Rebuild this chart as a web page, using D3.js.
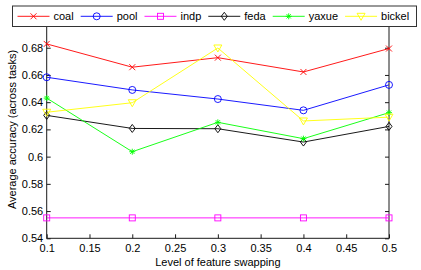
<!DOCTYPE html>
<html>
<head>
<meta charset="utf-8">
<script src="https://cdn.jsdelivr.net/npm/d3@7/dist/d3.min.js"></script>
<style>
  html, body { margin: 0; padding: 0; background: #fff; }
  svg { display: block; font-family: "Liberation Sans", Arial, sans-serif; }
</style>
</head>
<body>
<svg id="chart"></svg>
<script>
var W = 421, H = 270;

// data
var levels = [0.1, 0.2, 0.3, 0.4, 0.5];
var coal   = [0.6828, 0.6657, 0.6727, 0.6622, 0.6794];
var pool   = [0.6583, 0.6490, 0.6423, 0.6340, 0.6527];
var indp   = [0.5550, 0.5550, 0.5550, 0.5550, 0.5550];
var feda   = [0.6303, 0.6207, 0.6205, 0.6107, 0.6222];
var yaxue  = [0.6430, 0.6036, 0.6252, 0.6132, 0.6323];
var bickel = [0.6326, 0.6396, 0.6798, 0.6262, 0.6290];

var xTicks = [0.1, 0.15, 0.2, 0.25, 0.3, 0.35, 0.4, 0.45, 0.5];
var yTicks = [0.54, 0.56, 0.58, 0.6, 0.62, 0.64, 0.66, 0.68, 0.7];

var series = [
    { name: "coal",   values: coal,   color: "#ff0000", marker: "x" },
    { name: "pool",   values: pool,   color: "#0000ff", marker: "o" },
    { name: "indp",   values: indp,   color: "#ff00ff", marker: "s" },
    { name: "feda",   values: feda,   color: "#000000", marker: "d" },
    { name: "yaxue",  values: yaxue,  color: "#00ff00", marker: "*" },
    { name: "bickel", values: bickel, color: "#ffff00", marker: "v" }
];

var svg = d3.select("#chart")
    .attr("width", W)
    .attr("height", H);

var x = d3.scaleLinear().domain([0.1, 0.5]).range([46.7, 389]);
var y = d3.scaleLinear().domain([0.54, 0.7]).range([238.3, 20.5]);

var fmt = function(d) { return String(+d.toFixed(2)); };
var axisColor = "#1a1a1a";

// axes box
svg.append("rect")
    .attr("x", x.range()[0])
    .attr("y", y.range()[1])
    .attr("width", x.range()[1] - x.range()[0])
    .attr("height", y.range()[0] - y.range()[1])
    .attr("fill", "#fff")
    .attr("stroke", axisColor)
    .attr("stroke-width", 1);

function styleAxis(g)
{
    g.select(".domain").remove();
    g.selectAll(".tick line").attr("stroke", axisColor);
    g.selectAll(".tick text")
        .attr("fill", "#000")
        .style("font-size", "11px")
        .style("font-family", "'Liberation Sans', Arial, sans-serif");
}

svg.append("g")
    .attr("transform", "translate(0," + y.range()[0] + ")")
    .call(d3.axisBottom(x).tickValues(xTicks).tickFormat(fmt)
          .tickSizeInner(-4).tickSizeOuter(0).tickPadding(6))
    .call(styleAxis);

svg.append("g")
    .attr("transform", "translate(0," + y.range()[1] + ")")
    .call(d3.axisTop(x).tickValues(xTicks).tickFormat("")
          .tickSizeInner(-4).tickSizeOuter(0))
    .call(styleAxis);

svg.append("g")
    .attr("transform", "translate(" + x.range()[0] + ",0)")
    .call(d3.axisLeft(y).tickValues(yTicks).tickFormat(fmt)
          .tickSizeInner(-4).tickSizeOuter(0).tickPadding(3.5))
    .call(styleAxis);

svg.append("g")
    .attr("transform", "translate(" + x.range()[1] + ",0)")
    .call(d3.axisRight(y).tickValues(yTicks).tickFormat("")
          .tickSizeInner(-4).tickSizeOuter(0))
    .call(styleAxis);

// axis titles
svg.append("text")
    .attr("x", (x.range()[0] + x.range()[1]) / 2)
    .attr("y", 266)
    .attr("text-anchor", "middle")
    .style("font-size", "11px")
    .text("Level of feature swapping");

svg.append("text")
    .attr("transform", "translate(16," + (y.range()[0] + y.range()[1]) / 2 + ") rotate(-90)")
    .attr("text-anchor", "middle")
    .style("font-size", "11px")
    .text("Average accuracy (across tasks)");

// marker drawing
function drawMarker(g, type, color)
{
    var s = 3.5;
    if (type == "x")
    {
        g.append("path").attr("d", "M" + (-s+0.5) + "," + (-s+0.5) + "L" + (s-0.5) + "," + (s-0.5) +
                                   "M" + (-s+0.5) + "," + (s-0.5) + "L" + (s-0.5) + "," + (-s+0.5))
            .attr("stroke", color).attr("fill", "none");
    }
    else if (type == "o")
    {
        g.append("circle").attr("r", s).attr("stroke", color).attr("fill", "none");
    }
    else if (type == "s")
    {
        g.append("rect").attr("x", -s + 0.5).attr("y", -s + 0.5)
            .attr("width", 2 * s - 1).attr("height", 2 * s - 1)
            .attr("stroke", color).attr("fill", "none");
    }
    else if (type == "d")
    {
        g.append("path").attr("d", "M0," + (-s - 0.5) + "L" + (s - 0.5) + ",0L0," + (s + 0.5) + "L" + (-s + 0.5) + ",0Z")
            .attr("stroke", color).attr("fill", "none");
    }
    else if (type == "*")
    {
        var a = s - 0.5, b = a * 0.72;
        g.append("path").attr("d", "M" + (-a) + ",0L" + a + ",0M0," + (-a) + "L0," + a +
                                   "M" + (-b) + "," + (-b) + "L" + b + "," + b +
                                   "M" + (-b) + "," + b + "L" + b + "," + (-b))
            .attr("stroke", color).attr("fill", "none");
    }
    else if (type == "v")
    {
        g.append("path").attr("d", "M" + (-s - 0.5) + "," + (-s + 0.5) + "L" + (s + 0.5) + "," + (-s + 0.5) + "L0," + (s + 0.5) + "Z")
            .attr("stroke", color).attr("fill", "none");
    }
}

var line = d3.line()
    .x(function(d, i) { return x(levels[i]); })
    .y(function(d) { return y(d); });

var plot = svg.append("g");

series.forEach(function(s)
{
    plot.append("path")
        .datum(s.values)
        .attr("d", line)
        .attr("fill", "none")
        .attr("stroke", s.color)
        .attr("stroke-width", 0.9);

    plot.selectAll(null)
        .data(s.values)
        .enter().append("g")
        .attr("transform", function(d, i) { return "translate(" + x(levels[i]) + "," + y(d) + ")"; })
        .each(function() { drawMarker(d3.select(this), s.marker, s.color); })
        .selectAll("*").attr("stroke-width", 0.9);
});

// legend
var legend = svg.append("g");
var legendBox = legend.append("rect")
    .attr("x", 12.5)
    .attr("y", 6)
    .attr("width", 404)
    .attr("height", 20.5)
    .attr("fill", "#fff")
    .attr("stroke", "#333")
    .attr("stroke-width", 1);

var textX = 53.5;
series.forEach(function(s)
{
    var item = legend.append("g");
    var mx = textX - 20;
    item.append("line")
        .attr("x1", mx - 16).attr("x2", mx + 16)
        .attr("y1", 16.3).attr("y2", 16.3)
        .attr("stroke", s.color).attr("stroke-width", 0.9);
    var mg = item.append("g").attr("transform", "translate(" + mx + ",16.3)");
    drawMarker(mg, s.marker, s.color);
    mg.selectAll("*").attr("stroke-width", 0.9);
    var t = item.append("text")
        .attr("x", textX)
        .attr("y", 20.3)
        .style("font-size", "11px")
        .text(s.name);
    textX += t.node().getComputedTextLength() + 43;
});
</script>
</body>
</html>
